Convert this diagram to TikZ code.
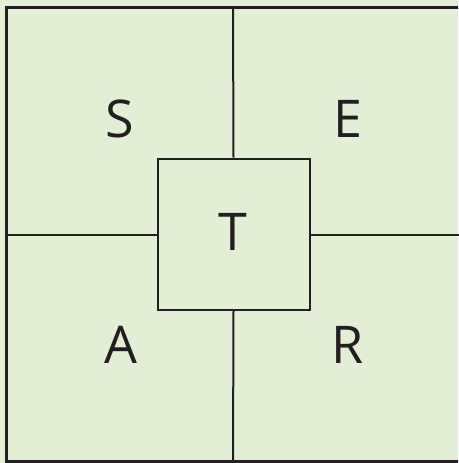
\documentclass[tikz,border=0pt]{standalone}
\usepackage{fontspec}
\setmainfont{Open Sans}
\definecolor{bgc}{HTML}{E3EFD5}
\definecolor{ink}{HTML}{231F20}
\tikzset{
  letter/.style={anchor=base, inner sep=0pt, text=ink, font=\fontsize{52}{52}\selectfont},
  frameline/.style={draw=ink, line width=2.6pt},
  crossline/.style={draw=ink, line width=2pt},
}
\begin{document}
\begin{tikzpicture}[x=1pt,y=-1pt]
\useasboundingbox (0,0) rectangle (458,463);
\fill[bgc] (0,0) rectangle (458,463);
\begin{scope}
\clip (0,0) rectangle (458,463);
\draw[frameline] (6.5,7.5) rectangle (461.5,461.5);
\end{scope}
\node[draw=ink, line width=2pt, minimum width=152pt, minimum height=151.5pt, inner sep=0pt] (box) at (233.5,234.25) {};
\coordinate (top) at (233,7.5);
\coordinate (bot) at (233,461.5);
\coordinate (lft) at (6.5,234.5);
\coordinate (rgt) at (461.5,234.5);
\draw[crossline] (box.north) -- (top);
\draw[crossline] (box.south) -- (bot);
\draw[crossline] (box.west |- lft) -- (lft);
\draw[crossline] (box.east |- rgt) -- (rgt);
\node[letter] (S) at (120,137.7) {S};
\node[letter] (E) at (347.5,137.7) {E};
\node[letter] (A) at (120.5,363.7) {A};
\node[letter] (R) at (348,363.7) {R};
\node[letter] (T) at (233,250.7) {T};
\end{tikzpicture}
\end{document}
